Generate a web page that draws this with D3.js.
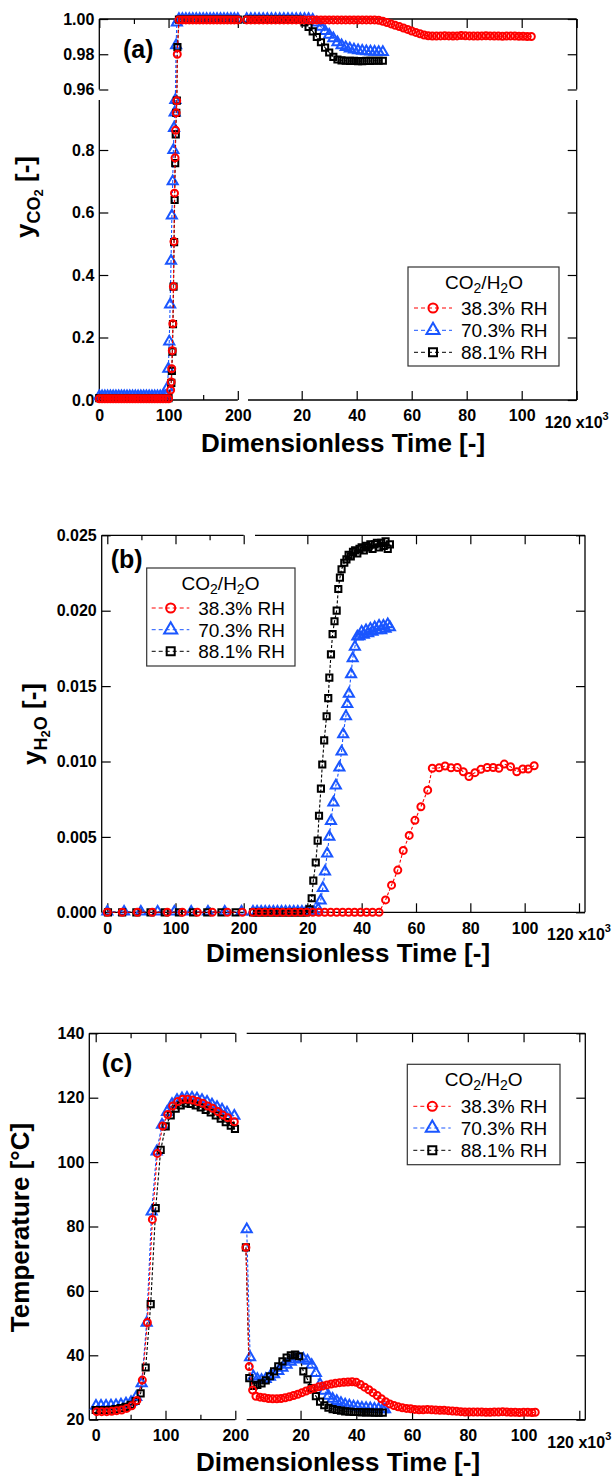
<!DOCTYPE html>
<html>
<head>
<meta charset="utf-8">
<script src="https://cdn.jsdelivr.net/npm/d3@7"></script>
<style>
body{margin:0;background:#fff;}
svg text{font-family:"Liberation Sans",Arial,Helvetica,sans-serif;}
</style>
</head>
<body>
<svg id="chart" width="614" height="1479"></svg>
<script>
// series: red 38.3 %, blue 70.3 %, black 88.1 %
var names = ['38.3% RH','70.3% RH','88.1% RH'];
var colors = ['#ff0000','#1a56ff','#000000'];
var drawOrder = [1,2,0];

// ---------- (a) y CO2, stage 1 (0-200) ----------
var a1TimeRed = [0,4,8,12,16,20,24,28,32,36,40,44,48,52,56,60,64,68,72,76,80,84,88,92,96,100,
  103.0,103.8,104.6,105.4,106.2,107.0,107.8,108.6,109.4,110.2,111.0,111.8,112.6,
  115,120,125,130,135,140,145,150,155,160,165,170,175,180,185,190,195,200];
var a1Red = [0.004,0.004,0.004,0.004,0.004,0.004,0.004,0.004,0.004,0.004,0.004,0.004,0.004,0.004,0.004,0.004,0.004,0.004,0.004,0.004,0.004,0.004,0.004,0.004,0.004,0.004,
  0.032,0.058,0.100,0.158,0.244,0.363,0.507,0.662,0.775,0.863,0.919,0.958,0.980,
  0.9995,0.9995,0.9995,0.9995,0.9995,0.9995,0.9995,0.9995,0.9995,0.9995,0.9995,0.9995,0.9995,0.9995,0.9995,0.9995,0.9995,0.9995];
var a1TimeBlue = [0,4,8,12,16,20,24,28,32,36,40,44,48,52,56,60,64,68,72,76,80,84,88,92,96,
  98.6,99.7,101.0,102.3,103.6,104.8,106.0,107.0,107.9,108.8,109.8,110.9,112.0,
  115,120,125,130,135,140,145,150,155,160,165,170,175,180,185,190,195,200];
var a1Blue = [0.012,0.012,0.012,0.012,0.012,0.012,0.012,0.012,0.012,0.012,0.012,0.012,0.012,0.012,0.012,0.012,0.012,0.012,0.012,0.012,0.012,0.012,0.012,0.012,0.012,
  0.04,0.10,0.187,0.305,0.445,0.59,0.70,0.80,0.87,0.92,0.96,0.985,0.998,
  1,1,1,1,1,1,1,1,1,1,1,1,1,1,1,1,1,1];
var a1TimeBlack = [0,4,8,12,16,20,24,28,32,36,40,44,48,52,56,60,64,68,72,76,80,84,88,92,96,100,
  104.0,104.8,105.6,106.4,107.2,108.0,108.8,109.6,110.4,111.2,112.0,112.8,
  115,120,125,130,135,140,145,150,155,160,165,170,175,180,185,190,195,200];
var a1Black = [0.006,0.006,0.006,0.006,0.006,0.006,0.006,0.006,0.006,0.006,0.006,0.006,0.006,0.006,0.006,0.006,0.006,0.006,0.006,0.006,0.006,0.006,0.006,0.006,0.006,0.006,
  0.055,0.093,0.155,0.243,0.363,0.505,0.64,0.758,0.85,0.919,0.958,0.984,
  0.9996,0.9996,0.9996,0.9996,0.9996,0.9996,0.9996,0.9996,0.9996,0.9996,0.9996,0.9996,0.9996,0.9996,0.9996,0.9996,0.9996,0.9996];

// ---------- (a) stage 2 (x10^3) ----------
var a2TimeRed = [0,1.5,3,4.5,6,7.5,9,10.5,12,13.5,15,16.5,18,19.5,21,22.5,24,25.5,27,28.5,30,31.5,33,34.5,36,37.5,39,40.5,42,43.5,45,46.5,
  48,49.5,51,52.5,54,55.5,57,58.5,60,61.5,63,64.5,66,67.5,
  69,70.5,72,73.5,75,76.5,78,79.5,81,82.5,84,85.5,87,88.5,90,91.5,93,94.5,96,97.5,99,100.5,102,103.5];
var a2Red = [0.9995,0.9995,0.9995,0.9995,0.9995,0.9995,0.9995,0.9995,0.9995,0.9995,0.9995,0.9995,0.9995,0.9995,0.9995,0.9995,
  0.9995,0.9995,0.9995,0.9995,0.9995,0.9995,0.9995,0.9995,0.9995,0.9995,0.9995,0.9995,0.9995,0.9995,0.9995,0.9995,
  0.9993,0.9987,0.9980,0.9972,0.9964,0.9957,0.9949,0.9941,0.9932,0.9924,0.9916,0.9909,0.9905,0.9903,
  0.9903,0.9904,0.9905,0.9904,0.9903,0.9904,0.9906,0.9905,0.9904,0.9903,0.9903,0.9904,0.9905,0.9904,0.9903,0.9903,0.9902,0.9903,0.9904,0.9903,0.9902,0.9902,0.9901,0.9901];
var a2TimeBW = [0,1.5,3,4.5,6,7.5,9,10.5,12,13.5,15,16.5,18,19.5,21,22.5,24,25.5,27,28.5,30,31.5,33,34.5,36,37.5,39,40.5,42,43.5,45,46.5,48,49.5];
var a2Blue = [1,1,1,1,1,1,1,1,1,1,1,1,1,1,1,1,
  0.9995,0.998,0.9955,0.9932,0.991,0.989,0.9868,0.985,0.984,0.9832,0.9826,0.9822,0.9819,0.9817,0.9815,0.9814,0.9813,0.9812];
var a2Black = [0.9996,0.9996,0.9996,0.9996,0.9996,0.9996,0.9996,0.9996,0.9996,0.9996,0.9996,0.9996,0.9996,0.9996,
  0.998,0.9955,0.993,0.9898,0.9868,0.9838,0.981,0.9785,0.977,0.9765,0.9763,0.9762,0.9762,0.9761,0.9761,0.9762,0.9762,0.9763,0.9763,0.9763];

// ---------- (b) y H2O ----------
var b1TimeRed = [0,22,44,66,88,110,132,154,176,198];
var b1Red = [0,0,0,0,0,0,0,0,0,0];
var b1TimeBlue = [0,24.6,49.2,73.8,98.4,123,147.6,172.2,196.8];
var b1Blue = [0.00004,0.00004,0.00004,0.00004,0.00004,0.00004,0.00004,0.00004,0.00004];
var b1TimeBlack = [1,21.8,42.6,63.4,84.2,105,125.8,146.6,167.4,188.2];
var b1Black = [0,0,0,0,0,0,0,0,0,0];

var b2TimeRed = [0,2.2,4.4,6.6,8.8,11.0,13.2,15.4,17.6,19.8,22.0,24.2,26.4,28.6,30.8,33.0,35.2,37.4,39.6,41.8,44.0,46.4,
  48.8,51.0,53.3,55.3,57.5,59.6,61.8,64.3,66.0,68.5,70.7,72.9,75.2,77.4,79.5,81.7,83.9,86.2,88.4,90.5,92.5,94.8,97.1,99.3,101.3,103.5];
var b2Red = [0,0,0,0,0,0,0,0,0,0,0,0,0,0,0,0,0,0,0,0,0,0,
  0.00082,0.0018,0.0028,0.0041,0.0051,0.0061,0.0070,0.0081,0.00955,0.00958,0.0097,0.00958,0.0096,0.00932,0.0090,0.00926,0.00948,0.0096,0.0096,0.00955,0.00983,0.00966,0.00932,0.0095,0.0095,0.00972];
var b2TimeBlue = [0,1.5,3,4.5,6,7.5,9,10.5,12,13.5,15,16.5,18,19.5,21,22.5,24,
  24.9,25.7,26.5,27.3,28.1,28.7,29.6,30.5,31.8,32.6,33.2,34.2,34.7,35.3,36.1,36.7,37.5,38.4,
  39.2,40.0,40.8,41.6,42.4,43.2,44.0,44.8,45.6,46.4,47.2,48.0,48.8,49.6,50.4];
var b2Blue = [0.00004,0.00004,0.00004,0.00004,0.00004,0.00004,0.00004,0.00004,0.00004,0.00004,0.00004,0.00004,0.00004,0.00004,0.00004,0.00004,0.0002,
  0.00077,0.0016,0.0027,0.0039,0.0050,0.00605,0.00727,0.0084,0.0096,0.01065,0.0118,0.0130,0.0138,0.01448,0.01578,0.01684,0.01761,0.01828,
  0.0183,0.0186,0.0184,0.0187,0.0185,0.0188,0.0186,0.0189,0.0187,0.0190,0.0187,0.0190,0.0188,0.0191,0.0189];
var b2TimeBlack = [0,1.5,3,4.5,6,7.5,9,10.5,12,13.5,15,16.5,18,19.5,20.8,
  21.6,22.2,23.1,23.8,24.3,25.0,25.5,26.2,27.1,27.7,28.1,28.7,29.3,30.0,30.8,31.4,32.0,32.6,33.6,
  34.4,35.2,36.0,36.8,37.6,38.4,39.2,40.0,40.8,41.6,42.4,43.2,44.0,44.8,45.6,46.4,47.2,48.0,48.8,49.6,50.4];
var b2Black = [0,0,0,0,0,0,0,0,0,0,0,0,0,0,0.0002,
  0.00093,0.0021,0.0033,0.00475,0.0064,0.0082,0.0098,0.0114,0.0130,0.0142,0.01556,0.0171,0.01845,0.0193,0.0200,0.02144,0.02219,0.02275,0.02318,
  0.0234,0.0237,0.0236,0.0239,0.0240,0.0238,0.0241,0.0242,0.0240,0.0243,0.0242,0.0244,0.0241,0.0244,0.0245,0.0242,0.0245,0.0243,0.0246,0.0241,0.0244];

// ---------- (c) temperature ----------
var c1TimeRed = [1.4,8.6,15.8,22.9,30.1,37.2,44.4,51.6,59.0,66.8,74.0,81.2,88.3,96.0,103.2,110.3,117.5,124.6,131.8,139.0,146.1,153.3,160.5,167.6,174.8,182.0,189.1,198.6];
var c1Red = [22.5,22.5,22.5,22.6,22.8,23.0,23.5,24.3,26.0,32.3,50.2,82.2,102.7,111.2,114.8,117.4,118.8,119.5,119.5,119.3,118.8,118.3,117.4,116.7,115.7,114.6,113.8,112.5];
var c1TimeBlue = [0.4,7.6,14.8,21.9,29.1,36.2,43.4,50.6,58.0,65.8,73.0,80.2,87.3,95.0,102.2,109.3,116.5,123.6,130.8,138.0,145.1,152.3,159.5,166.6,173.8,181.0,188.1,198.6];
var c1Blue = [24.3,24.3,24.3,24.4,24.5,24.7,25.0,25.5,27.0,31.3,50.1,84.6,103.3,111.6,115.5,118.0,119.3,119.8,120.0,120.0,119.7,119.3,118.7,117.9,117.1,116.3,115.4,114.4];
var c1TimeBlack = [0,7.2,14.3,21.5,28.6,35.8,42.9,50.1,57.2,64.4,71.6,78.8,86.0,93.1,100.3,107.5,114.6,121.8,129.0,136.1,143.3,150.5,157.6,164.8,172.0,179.1,186.3,193.5,199.5];
var c1Black = [23.0,23.0,23.0,23.1,23.3,23.6,24.0,24.6,25.8,28.2,36.2,55.9,85.7,103.8,111.1,114.5,116.6,117.6,118.2,118.1,117.6,117.0,116.2,115.4,114.5,113.5,112.4,111.3,110.3];

var c2TimeRed = [0.4,1.6,2.8,4.0,5.5,7.0,8.5,10.0,11.5,13.0,14.5,16.0,17.5,19.0,20.5,22.0,23.5,25.0,26.5,28.0,29.5,31.0,32.5,34.0,35.5,37.0,38.5,40.0,
  41.5,43.0,44.5,46.0,47.5,49.0,50.5,52.0,53.5,55.0,56.5,58.0,59.5,61.0,62.5,64.0,65.5,67.0,68.5,70.0,71.5,73.0,74.5,76.0,77.5,79.0,80.5,82.0,83.5,85.0,
  86.5,88.0,89.5,91.0,92.5,94.0,95.5,97.0,98.5,100.0,101.5,103.0,104.2];
var c2Red = [73.5,36.5,29.2,27.3,27.0,26.8,26.6,26.5,26.5,26.6,26.8,27.1,27.5,27.9,28.4,28.9,29.4,29.8,30.2,30.5,30.8,31.1,31.3,31.5,31.6,31.7,31.8,31.6,
  30.9,30.1,29.3,28.4,27.5,26.5,25.6,24.9,24.4,24.0,23.7,23.5,23.4,23.2,23.1,23.1,23.2,23.1,23.0,22.9,22.9,22.8,22.7,22.6,22.5,22.4,22.4,22.4,22.4,22.4,
  22.3,22.3,22.4,22.4,22.5,22.4,22.3,22.3,22.2,22.3,22.3,22.2,22.3];
var c2TimeBlue = [0.7,1.9,3.1,4.5,6.0,7.5,9.0,10.5,12.0,13.5,15.0,16.5,18.0,19.5,21.0,22.5,24.0,25.5,27.0,28.5,30.0,31.5,33.0,34.5,36.0,37.5,39.0,40.5,42.0,43.5,45.0,46.5,48.0,49.5,50.3];
var c2Blue = [79.1,39.4,33.4,32.6,32.3,32.6,33.3,34.1,35.1,36.1,37.0,38.0,38.7,39.0,38.9,38.3,37.0,34.5,31.0,29.0,27.4,26.5,25.8,25.2,24.7,24.4,24.1,23.9,23.7,23.6,23.5,23.4,23.3,23.2,23.2];
var c2TimeBlack = [0.4,1.6,3.1,4.5,6.0,7.5,9.0,10.5,12.0,13.5,15.0,16.5,18.0,19.5,21.0,22.5,24.0,25.5,27.0,28.5,30.0,31.5,33.0,34.5,36.0,37.5,39.0,40.5,42.0,43.5,45.0,46.5,48.0,49.5];
var c2Black = [73.5,32.9,30.5,30.8,31.3,32.2,33.5,35.0,36.6,38.1,39.3,40.0,40.2,39.7,35.0,32.5,29.8,27.3,25.6,24.5,23.7,23.3,23.0,22.8,22.6,22.5,22.4,22.4,22.3,22.3,22.3,22.2,22.2,22.2];

// ---------- drawing ----------
var FONT = '"Liberation Sans", Arial, Helvetica, sans-serif';
var svg = d3.select('#chart');

function marker(g, k, x, y, s) {
  s = s || 1;
  if (k === 0) {
    g.append('circle').attr('cx', x).attr('cy', y).attr('r', 3.5 * s)
      .attr('fill', 'none').attr('stroke', colors[k]).attr('stroke-width', 2);
  } else {
    var type = k === 1 ? d3.symbolTriangle : d3.symbolSquare;
    var size = (k === 1 ? 44 : 38) * s * s;
    g.append('path').attr('d', d3.symbol().type(type).size(size)())
      .attr('transform', 'translate(' + x + ',' + y + ')')
      .attr('fill', 'none').attr('stroke', colors[k]).attr('stroke-width', 2);
  }
}

function styleAxis(sel) {
  sel.select('.domain').remove();
  sel.attr('font-family', FONT).attr('font-size', 16);
  sel.selectAll('line').attr('stroke', '#000').attr('stroke-width', 1.2);
  sel.selectAll('text').attr('font-weight', 'bold').attr('fill', '#000');
}

function hline(g, x1, x2, y) {
  g.append('line').attr('x1', x1).attr('x2', x2).attr('y1', y).attr('y2', y)
    .attr('stroke', '#000').attr('stroke-width', 1.3);
}
function vline(g, x, y1, y2) {
  g.append('line').attr('x1', x).attr('x2', x).attr('y1', y1).attr('y2', y2)
    .attr('stroke', '#000').attr('stroke-width', 1.3);
}

function drawSeries(g, xs, yf, T, V, k) {
  var n = Math.min(T.length, V.length);
  var pts = [];
  for (var i = 0; i < n; i++) pts.push([xs(T[i]), yf(V[i])]);
  g.append('path').attr('d', d3.line()(pts)).attr('fill', 'none')
    .attr('stroke', colors[k]).attr('stroke-width', 1.1).attr('stroke-dasharray', '3,2');
  pts.forEach(function(p){ marker(g, k, p[0], p[1], 1); });
}

function drawLegend(L) {
  var g = svg.append('g');
  g.append('rect').attr('x', L.x).attr('y', L.y).attr('width', L.w).attr('height', L.h)
    .attr('fill', '#fff').attr('stroke', '#333').attr('stroke-width', 1.2);
  var t = g.append('text').attr('x', L.tx).attr('y', L.ty).attr('text-anchor', 'middle')
    .attr('font-size', 19).attr('font-family', FONT);
  t.append('tspan').text('CO');
  t.append('tspan').attr('font-size', 14).attr('dy', 4).text('2');
  t.append('tspan').attr('dy', -4).text('/H');
  t.append('tspan').attr('font-size', 14).attr('dy', 4).text('2');
  t.append('tspan').attr('dy', -4).text('O');
  names.forEach(function(n, k){
    var yy = L.rows[k] - 7;
    g.append('line').attr('x1', L.lx1).attr('x2', L.lx2).attr('y1', yy).attr('y2', yy)
      .attr('stroke', colors[k]).attr('stroke-width', 1).attr('stroke-dasharray', '4,3');
    marker(g, k, L.sx, yy, 1.3);
    g.append('text').attr('x', L.textX).attr('y', L.rows[k]).attr('font-size', 19)
      .attr('font-family', FONT).text(n);
  });
}

function drawPanel(p) {
  var g = svg.append('g');
  var xl = d3.scaleLinear().domain([0, 200]).range(p.xl);
  var xr = d3.scaleLinear().domain([0, 120]).range(p.xr);

  // frame
  hline(g, p.left, p.lEnd, p.bottom); hline(g, p.rStart, p.right, p.bottom);
  hline(g, p.left, p.lEnd, p.top); hline(g, p.rStart, p.right, p.top);
  p.ySegs.forEach(function(s){
    vline(g, p.left, s.y0, s.y1); vline(g, p.right, s.y0, s.y1);
  });

  // x ticks
  var ax;
  ax = g.append('g').attr('transform', 'translate(0,' + p.bottom + ')')
    .call(d3.axisBottom(xl).tickValues([0, 100, 200]).tickSize(-9).tickPadding(10).tickFormat(d3.format('d')));
  styleAxis(ax);
  ax = g.append('g').attr('transform', 'translate(0,' + p.bottom + ')')
    .call(d3.axisBottom(xl).tickValues([50, 150]).tickSize(-5).tickFormat(''));
  styleAxis(ax);
  ax = g.append('g').attr('transform', 'translate(0,' + p.bottom + ')')
    .call(d3.axisBottom(xr).tickValues([20, 40, 60, 80, 100]).tickSize(-9).tickPadding(10).tickFormat(d3.format('d')));
  styleAxis(ax);
  ax = g.append('g').attr('transform', 'translate(0,' + p.bottom + ')')
    .call(d3.axisBottom(xr).tickValues([120]).tickSize(-9).tickFormat(''));
  styleAxis(ax);
  var lab = g.append('text').attr('x', xr(120)).attr('y', p.bottom + 28).attr('text-anchor', 'middle')
    .attr('font-family', FONT).attr('font-size', 16).attr('font-weight', 'bold');
  lab.append('tspan').text('120 x10');
  lab.append('tspan').attr('font-size', 11).attr('dy', -8).text('3');

  ax = g.append('g').attr('transform', 'translate(0,' + p.top + ')')
    .call(d3.axisTop(xl).tickValues([0, 100, 200]).tickSize(-9).tickFormat(''));
  styleAxis(ax);
  ax = g.append('g').attr('transform', 'translate(0,' + p.top + ')')
    .call(d3.axisTop(xl).tickValues([50, 150]).tickSize(-5).tickFormat(''));
  styleAxis(ax);
  ax = g.append('g').attr('transform', 'translate(0,' + p.top + ')')
    .call(d3.axisTop(xr).tickValues([20, 40, 60, 80, 100, 120]).tickSize(-9).tickFormat(''));
  styleAxis(ax);

  // y ticks
  p.ySegs.forEach(function(s){
    var a = g.append('g').attr('transform', 'translate(' + p.left + ',0)')
      .call(d3.axisLeft(s.scale).tickValues(s.ticks).tickSize(-9).tickPadding(5).tickFormat(s.fmt));
    styleAxis(a);
    a = g.append('g').attr('transform', 'translate(' + p.right + ',0)')
      .call(d3.axisRight(s.scale).tickValues(s.ticks).tickSize(-9).tickFormat(''));
    styleAxis(a);
  });

  // data
  drawOrder.forEach(function(k){
    drawSeries(g, xl, p.yf, p.s1[k][0], p.s1[k][1], k);
    drawSeries(g, xr, p.yf, p.s2[k][0], p.s2[k][1], k);
  });

  // texts
  g.append('text').attr('x', p.tag[0]).attr('y', p.tag[1]).attr('font-family', FONT)
    .attr('font-size', 25).attr('font-weight', 'bold').text(p.tagText);
  g.append('text').attr('x', p.xt[0]).attr('y', p.xt[1]).attr('text-anchor', 'middle')
    .attr('font-family', FONT).attr('font-size', 26).attr('font-weight', 'bold')
    .text('Dimensionless Time [-]');
  var yt = g.append('text').attr('transform', 'translate(' + p.yt[0] + ',' + p.yt[1] + ') rotate(-90)')
    .attr('text-anchor', 'middle').attr('font-family', FONT).attr('font-size', 26).attr('font-weight', 'bold');
  p.ytitle(yt);

  drawLegend(p.legend);
}

// panel (a)
var aLow = d3.scaleLinear().domain([0, 0.96]).range([400, 100]);
var aUp = d3.scaleLinear().domain([0.96, 1.0]).range([89.5, 19]);
drawPanel({
  xl: [99.3, 237.8], xr: [246.7, 576.7],
  left: 99.3, lEnd: 237.8, rStart: 248, right: 576.7, top: 19, bottom: 400,
  ySegs: [
    {scale: aLow, ticks: [0, 0.2, 0.4, 0.6, 0.8], fmt: d3.format('.1f'), y0: 100, y1: 400},
    {scale: aUp, ticks: [0.96, 0.98, 1.0], fmt: d3.format('.2f'), y0: 19, y1: 89.5}
  ],
  yf: function(v){ return v > 0.96 ? aUp(v) : aLow(v); },
  s1: [[a1TimeRed, a1Red], [a1TimeBlue, a1Blue], [a1TimeBlack, a1Black]],
  s2: [[a2TimeRed, a2Red], [a2TimeBW, a2Blue], [a2TimeBW, a2Black]],
  tag: [123, 58], tagText: '(a)',
  xt: [343, 452], yt: [34, 197],
  ytitle: function(t){
    t.append('tspan').text('y');
    t.append('tspan').attr('font-size', 18).attr('dy', 6).text('CO');
    t.append('tspan').attr('font-size', 13).attr('dy', 3).text('2');
    t.append('tspan').attr('font-size', 26).attr('dy', -9).text(' [-]');
  },
  legend: {x: 408, y: 267, w: 151, h: 99, tx: 484, ty: 288.5, rows: [315, 337.3, 359.3],
           sx: 433, lx1: 414, lx2: 452, textX: 461}
});

// panel (b)
var bY = d3.scaleLinear().domain([0, 0.025]).range([912.3, 535.3]);
drawPanel({
  xl: [107.3, 243.7], xr: [253, 579],
  left: 101.7, lEnd: 243.7, rStart: 255, right: 585, top: 535.3, bottom: 912.3,
  ySegs: [{scale: bY, ticks: [0, 0.005, 0.010, 0.015, 0.020, 0.025], fmt: d3.format('.3f'), y0: 535.3, y1: 912.3}],
  yf: bY,
  s1: [[b1TimeRed, b1Red], [b1TimeBlue, b1Blue], [b1TimeBlack, b1Black]],
  s2: [[b2TimeRed, b2Red], [b2TimeBlue, b2Blue], [b2TimeBlack, b2Black]],
  tag: [110.7, 568], tagText: '(b)',
  xt: [348, 962], yt: [40.5, 724],
  ytitle: function(t){
    t.append('tspan').text('y');
    t.append('tspan').attr('font-size', 18).attr('dy', 6).text('H');
    t.append('tspan').attr('font-size', 13).attr('dy', 3).text('2');
    t.append('tspan').attr('font-size', 18).attr('dy', -3).text('O');
    t.append('tspan').attr('font-size', 26).attr('dy', -6).text(' [-]');
  },
  legend: {x: 146.7, y: 568, w: 148.3, h: 98, tx: 220.5, ty: 590, rows: [615, 636.7, 658.3],
           sx: 170.7, lx1: 151.7, lx2: 189.3, textX: 198.3}
});

// panel (c)
var cY = d3.scaleLinear().domain([20, 140]).range([1419.7, 1033.3]);
drawPanel({
  xl: [95.7, 235.3], xr: [244.8, 579.3],
  left: 89.3, lEnd: 235.3, rStart: 246.7, right: 585.3, top: 1033.3, bottom: 1419.7,
  ySegs: [{scale: cY, ticks: [20, 40, 60, 80, 100, 120, 140], fmt: d3.format('d'), y0: 1033.3, y1: 1419.7}],
  yf: cY,
  s1: [[c1TimeRed, c1Red], [c1TimeBlue, c1Blue], [c1TimeBlack, c1Black]],
  s2: [[c2TimeRed, c2Red], [c2TimeBlue, c2Blue], [c2TimeBlack, c2Black]],
  tag: [101.7, 1071.5], tagText: '(c)',
  xt: [338, 1471], yt: [29, 1227.5],
  ytitle: function(t){ t.text('Temperature [°C]'); },
  legend: {x: 407.3, y: 1064.3, w: 152.7, h: 100.4, tx: 483.7, ty: 1086, rows: [1113.3, 1135, 1157.3],
           sx: 432.3, lx1: 413.3, lx2: 450.7, textX: 460.7}
});
</script>
</body>
</html>
